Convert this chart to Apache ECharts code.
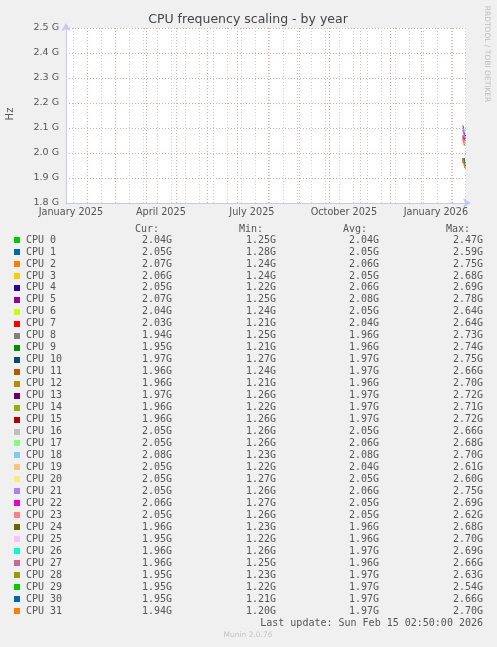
<!DOCTYPE html>
<html>
<head>
<meta charset="utf-8">
<script src="https://cdn.jsdelivr.net/npm/echarts@6/dist/echarts.min.js"></script>
<style>
html,body{margin:0;padding:0;background:#f0f0f0;}
#chart{width:497px;height:647px;}
</style>
</head>
<body>
<div id="chart"></div>
<script>
// ---------- data ----------
const graphStart = '2025-01-11T02:50:00Z';
const graphEnd = '2026-02-15T02:50:00Z';

const cpuNames = ['CPU 0','CPU 1','CPU 2','CPU 3','CPU 4','CPU 5','CPU 6','CPU 7','CPU 8','CPU 9','CPU 10','CPU 11','CPU 12','CPU 13','CPU 14','CPU 15','CPU 16','CPU 17','CPU 18','CPU 19','CPU 20','CPU 21','CPU 22','CPU 23','CPU 24','CPU 25','CPU 26','CPU 27','CPU 28','CPU 29','CPU 30','CPU 31'];

const cpuColors = ['#00CC00','#0066B3','#FF8000','#FFCC00','#330099','#990099','#CCFF00','#FF0000','#808080','#008F00','#00487D','#B35A00','#B38F00','#6B006B','#8FB300','#B30000','#BEBEBE','#80FF80','#80C9FF','#FFC080','#FFE680','#AA80FF','#EE00CC','#FF8080','#666600','#FFBFFF','#00FFCC','#CC6699','#999900','#00CC00','#0066B3','#FF8000'];

const curGHz = [2.04,2.05,2.07,2.06,2.05,2.07,2.04,2.03,1.94,1.95,1.97,1.96,1.96,1.97,1.96,1.96,2.05,2.05,2.08,2.05,2.05,2.05,2.06,2.05,1.96,1.95,1.96,1.96,1.95,1.95,1.95,1.94];
const minGHz = [1.25,1.28,1.24,1.24,1.22,1.25,1.24,1.21,1.25,1.21,1.27,1.24,1.21,1.26,1.22,1.26,1.26,1.26,1.23,1.22,1.27,1.26,1.27,1.26,1.23,1.22,1.26,1.25,1.23,1.22,1.21,1.20];
const avgGHz = [2.04,2.05,2.06,2.05,2.06,2.08,2.05,2.04,1.96,1.96,1.97,1.97,1.96,1.97,1.97,1.97,2.05,2.06,2.08,2.04,2.05,2.06,2.05,2.05,1.96,1.96,1.97,1.96,1.97,1.97,1.97,1.97];
const maxGHz = [2.47,2.59,2.75,2.68,2.69,2.78,2.64,2.64,2.73,2.74,2.75,2.66,2.70,2.72,2.71,2.72,2.66,2.68,2.70,2.61,2.60,2.75,2.69,2.62,2.68,2.70,2.69,2.66,2.63,2.54,2.66,2.70];

const sampleDates = ['2026-02-12T00:00:00Z','2026-02-13T00:00:00Z','2026-02-14T00:00:00Z','2026-02-15T00:00:00Z'];
const cpuFreqGHz = [
  [2.05,2.06,2.04,2.04],[2.06,2.07,2.05,2.05],[2.06,2.05,2.07,2.07],[2.05,2.04,2.06,2.06],
  [2.09,2.08,2.05,2.05],[2.11,2.09,2.07,2.07],[2.07,2.06,2.04,2.04],[2.06,2.04,2.03,2.03],
  [1.98,1.96,1.94,1.94],[1.97,1.96,1.95,1.95],[1.97,1.98,1.97,1.97],[1.98,1.97,1.96,1.96],
  [1.96,1.97,1.96,1.96],[1.97,1.96,1.97,1.97],[1.98,1.97,1.96,1.96],[1.97,1.98,1.96,1.96],
  [2.06,2.05,2.05,2.05],[2.08,2.07,2.05,2.05],[2.10,2.09,2.08,2.08],[2.04,2.03,2.05,2.05],
  [2.06,2.05,2.05,2.05],[2.10,2.08,2.05,2.05],[2.07,2.05,2.06,2.06],[2.06,2.04,2.05,2.05],
  [1.96,1.97,1.96,1.96],[1.97,1.96,1.95,1.95],[1.98,1.97,1.96,1.96],[1.96,1.97,1.96,1.96],
  [1.98,1.96,1.95,1.95],[1.97,1.98,1.95,1.95],[1.98,1.97,1.95,1.95],[1.98,1.96,1.94,1.94]
];

const xLabelDates = ['2025-01-16T00:00:00Z','2025-04-16T00:00:00Z','2025-07-16T00:00:00Z','2025-10-16T00:00:00Z','2026-01-16T00:00:00Z'];
const xLabelTexts = ['January 2025','April 2025','July 2025','October 2025','January 2026'];
const monthStarts = ['2025-02-01','2025-03-01','2025-04-01','2025-05-01','2025-06-01','2025-07-01','2025-08-01','2025-09-01','2025-10-01','2025-11-01','2025-12-01','2026-01-01','2026-02-01'];
const minorGridFirst = '2025-01-18';
const minorGridStepDays = 14;
const yMinMHz = 1800, yMaxMHz = 2500, yStepMHz = 100;
const lastUpdate = 'Last update: Sun Feb 15 02:50:00 2026';

// ---------- build ----------
const ts = s => Date.parse(s.length === 10 ? s + 'T00:00:00Z' : s);
const xMin = ts(graphStart), xMax = ts(graphEnd);
const DAY = 86400000;
const minorGrid = [];
for (let t = ts(minorGridFirst); t < xMax; t += minorGridStepDays * DAY) minorGrid.push(t);
const labelVals = xLabelDates.map(ts);

const chart = echarts.init(document.getElementById('chart'), null, {renderer: 'canvas'});

const series = [];
series.push({
  type: 'line', data: [], silent: true, animation: false, z: 1,
  markLine: {
    silent: true, animation: false, symbol: ['none','none'], label: {show: false},
    lineStyle: {color: '#cfcfcf', type: [1,2], width: 1},
    emphasis: {disabled: true},
    data: minorGrid.map(v => ({xAxis: v}))
  }
});
series.push({
  type: 'line', data: [], silent: true, animation: false, z: 1,
  markLine: {
    silent: true, animation: false, symbol: ['none','none'], label: {show: false},
    lineStyle: {color: '#e8a6a6', type: [1,2], width: 1},
    emphasis: {disabled: true},
    data: monthStarts.map(d => ({xAxis: ts(d)}))
  }
});
cpuNames.forEach((name, i) => {
  series.push({
    name: name, type: 'line', showSymbol: false, animation: false, z: 3,
    lineStyle: {width: 1, color: cpuColors[i]}, itemStyle: {color: cpuColors[i]},
    data: sampleDates.map((d, k) => [ts(d), cpuFreqGHz[i][k] * 1000])
  });
});

const graphic = [];
const mono = '10px "DejaVu Sans Mono"';
const txtColor = '#555555';
function txt(x, y, text, font, fill, align, extra) {
  return Object.assign({
    type: 'text', x: x, y: y, silent: true,
    style: {text: text, font: font, fill: fill, align: align, verticalAlign: 'middle', textAlign: align, textVerticalAlign: 'middle'}
  }, extra || {});
}
graphic.push(txt(248, 19.5, 'CPU frequency scaling - by year', '12.5px "DejaVu Sans"', '#444444', 'center'));
graphic.push(txt(10, 114, 'Hz', '10px "DejaVu Sans"', txtColor, 'center', {rotation: Math.PI / 2}));
graphic.push(txt(487, 54, 'RRDTOOL / TOBI OETIKER', '7.5px "DejaVu Sans"', '#bdbdbd', 'center', {rotation: -Math.PI / 2}));
graphic.push(txt(159, 229, 'Cur:', mono, txtColor, 'right'));
graphic.push(txt(263, 229, 'Min:', mono, txtColor, 'right'));
graphic.push(txt(367, 229, 'Avg:', mono, txtColor, 'right'));
graphic.push(txt(470, 229, 'Max:', mono, txtColor, 'right'));
const fmt = v => v.toFixed(2) + 'G';
cpuNames.forEach((name, i) => {
  const y = 240 + i * 11.97;
  graphic.push({type: 'rect', silent: true, shape: {x: 14, y: Math.round(y) - 3, width: 6, height: 6}, style: {fill: cpuColors[i]}});
  graphic.push(txt(26, y, name, mono, txtColor, 'left'));
  graphic.push(txt(172, y, fmt(curGHz[i]), mono, txtColor, 'right'));
  graphic.push(txt(276, y, fmt(minGHz[i]), mono, txtColor, 'right'));
  graphic.push(txt(379, y, fmt(avgGHz[i]), mono, txtColor, 'right'));
  graphic.push(txt(483, y, fmt(maxGHz[i]), mono, txtColor, 'right'));
});
graphic.push(txt(483, 623, lastUpdate, mono, txtColor, 'right'));
graphic.push(txt(248, 635, 'Munin 2.0.76', '7.5px "DejaVu Sans"', '#c4c4c4', 'center'));

const axisColor = '#c4c8f2';
chart.setOption({
  backgroundColor: '#f0f0f0',
  animation: false,
  grid: {left: 66, top: 28, width: 400, height: 175, show: true, backgroundColor: '#ffffff', borderWidth: 0},
  xAxis: {
    type: 'value', min: xMin, max: xMax,
    axisLine: {show: true, lineStyle: {color: axisColor, width: 1}, symbol: ['none','arrow'], symbolSize: [7, 8], symbolOffset: [0, 5]},
    axisTick: {show: false},
    splitLine: {show: false},
    axisLabel: {
      show: true, customValues: labelVals, margin: 4,
      color: txtColor, fontFamily: 'DejaVu Sans', fontSize: 9.7,
      formatter: v => { const k = labelVals.indexOf(v); return k >= 0 ? xLabelTexts[k] : ''; }
    }
  },
  yAxis: {
    type: 'value', min: yMinMHz, max: yMaxMHz, interval: yStepMHz,
    axisLine: {show: true, lineStyle: {color: axisColor, width: 1}, symbol: ['none','arrow'], symbolSize: [7, 8], symbolOffset: [0, 5]},
    axisTick: {show: false},
    splitLine: {show: true, lineStyle: {color: '#e8a6a6', type: [1,2], width: 1}},
    axisLabel: {
      margin: 7, color: txtColor, fontFamily: 'DejaVu Sans', fontSize: 9.5,
      formatter: v => (v / 1000).toFixed(1) + ' G'
    }
  },
  series: series,
  graphic: graphic
});
</script>
</body>
</html>
